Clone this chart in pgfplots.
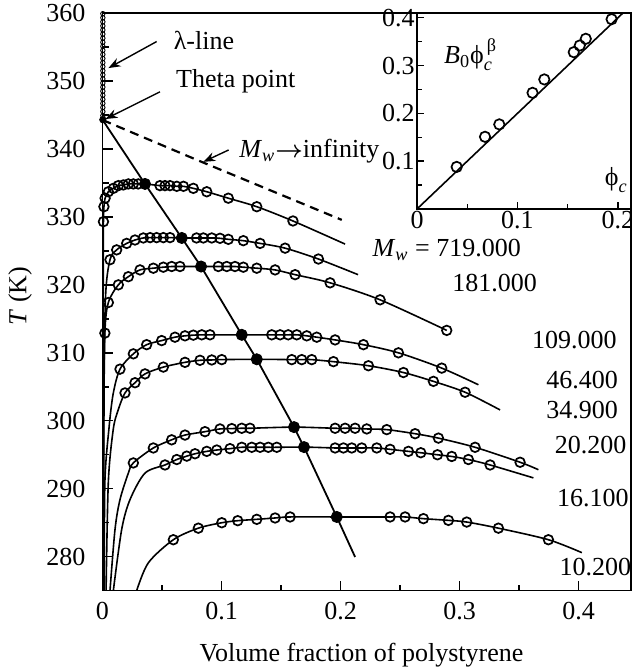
\documentclass[border=0pt]{standalone}
\usepackage{fontspec}
\setmainfont{Liberation Serif}
\usepackage{amsmath}
\usepackage{pgfplots}
\usepackage{pgfplotstable}
\pgfplotsset{compat=1.18}
\usetikzlibrary{arrows.meta}

% coexistence curves: x = volume fraction, T in K, m = 1 where a measured point (circle) sits
\pgfplotstableread{
x T m
0.0005 275 0
0.0005 300 0
0.0006 320 0
0.0008 329.3 1
0.0012 331.5 1
0.0022 332.75 1
0.0049 333.7 1
0.0091 334.2 1
0.0133 334.6 1
0.0175 334.7 1
0.0217 334.85 1
0.0259 334.85 1
0.0300 334.85 1
0.0357 334.85 0
0.0483 334.6 1
0.0525 334.6 1
0.0567 334.6 1
0.0624 334.5 1
0.0680 334.5 1
0.0763 334.2 1
0.0876 333.7 1
0.1057 332.75 1
0.1296 331.5 1
0.1600 329.4 1
0.2038 326.0 0
}\curveA
\pgfplotstableread{
x T m
0.0008 275 0
0.0009 300 0
0.0025 318 0
0.0063 323.7 1
0.0119 325.15 1
0.0203 326.1 1
0.0273 326.6 1
0.0343 326.9 1
0.0400 326.95 1
0.0455 326.95 1
0.0511 326.95 1
0.0567 326.95 1
0.0666 326.9 0
0.0790 326.9 1
0.0847 326.9 1
0.0918 326.9 1
0.0987 326.85 1
0.1057 326.7 1
0.1183 326.5 1
0.1324 326.1 1
0.1534 325.4 1
0.1814 323.8 1
0.2147 321.5 0
}\curveB
\pgfplotstableread{
x T m
0.0010 275 0
0.0012 300 0
0.0020 312.9 1
0.0049 317.4 1
0.0133 320.0 1
0.0217 321.2 1
0.0315 322.2 1
0.0427 322.45 1
0.0511 322.6 1
0.0581 322.7 1
0.0651 322.7 1
0.0828 322.7 0
0.0973 322.7 1
0.1044 322.7 1
0.1113 322.7 1
0.1183 322.6 1
0.1296 322.45 1
0.1450 322.2 1
0.1618 321.5 1
0.1912 320.3 1
0.2332 317.8 1
0.2892 313.3 1
}\curveC
\pgfplotstableread{
x T m
0.0015 275 0
0.0020 291 0
0.0055 299 0
0.0090 304 0
0.0147 307.6 1
0.0259 309.85 1
0.0371 311.2 1
0.0497 311.8 1
0.0609 312.3 1
0.0693 312.5 1
0.0763 312.6 1
0.0834 312.65 1
0.0903 312.65 1
0.1170 312.65 0
0.1422 312.65 1
0.1492 312.65 1
0.1560 312.65 1
0.1632 312.65 1
0.1716 312.5 1
0.1800 312.3 1
0.1954 311.9 1
0.2192 311.2 1
0.2486 310.0 1
0.2850 307.75 1
0.3158 305.3 0
}\curveD
\pgfplotstableread{
x T m
0.0030 275 0
0.0049 291 0
0.0090 298.7 0
0.0130 301.5 0
0.0189 304.1 1
0.0273 305.6 1
0.0357 306.9 1
0.0511 307.9 1
0.0693 308.6 1
0.0819 308.9 1
0.0918 308.95 1
0.1002 309.0 1
0.1296 309.05 0
0.1590 309.0 1
0.1674 309.0 1
0.1758 309.0 1
0.1940 308.7 1
0.2234 308.1 1
0.2528 307.1 1
0.2780 305.8 1
0.3046 304.2 1
0.3340 301.6 0
}\curveE
\pgfplotstableread{
x T m
0.0063 275 0
0.0105 284 0
0.0147 288.4 0
0.0217 292.3 0
0.0259 293.8 1
0.0427 296.0 1
0.0581 297.2 1
0.0693 297.9 1
0.0861 298.4 1
0.0987 298.8 1
0.1086 298.85 1
0.1170 298.9 1
0.1239 298.9 1
0.1609 299.07 0
0.1954 298.9 1
0.2038 298.9 1
0.2122 298.9 1
0.2220 298.8 1
0.2388 298.7 1
0.2626 298.1 1
0.2822 297.45 1
0.3130 296.1 1
0.3508 293.9 1
0.3662 292.8 0
}\curveF
\pgfplotstableread{
x T m
0.0091 275 0
0.0161 284 0
0.0231 288.4 0
0.0357 292.3 0
0.0525 293.5 1
0.0624 294.3 1
0.0708 294.8 1
0.0777 295.15 1
0.0876 295.5 1
0.0960 295.7 1
0.1071 295.9 1
0.1170 296.1 1
0.1254 296.1 1
0.1324 296.1 1
0.1393 296.1 1
0.1464 296.1 1
0.1693 296.13 0
0.1954 296.0 1
0.2024 296.0 1
0.2094 296.0 1
0.2178 296.0 1
0.2304 296.0 1
0.2416 295.8 1
0.2570 295.5 1
0.2674 295.3 1
0.2814 295.0 1
0.2934 294.75 1
0.3074 294.3 1
0.3256 293.5 1
0.3620 291.6 0
}\curveG
\pgfplotstableread{
x T m
0.0287 275 0
0.0385 279.1 0
0.0595 282.5 1
0.0805 284.2 1
0.1002 285.0 1
0.1136 285.3 1
0.1296 285.5 1
0.1450 285.7 1
0.1576 285.85 1
0.1968 285.85 0
0.2416 285.85 1
0.2542 285.85 1
0.2696 285.6 1
0.2906 285.35 1
0.3060 285.1 1
0.3326 284.2 1
0.3746 282.5 1
0.4027 280.6 0
}\curveH
% diameter through the critical points (m = 1 -> filled dot)
\pgfplotstableread{
x T m
0.0000 344.3 0
0.0357 334.85 1
0.0666 326.9 1
0.0828 322.7 1
0.1170 312.65 1
0.1296 309.05 1
0.1609 299.07 1
0.1693 296.13 1
0.1968 285.85 1
0.2122 279.96 0
}\diam
% inset: B0 phi_c^beta against phi_c
\pgfplotstableread{
x y
0.0395 0.088
0.0677 0.151
0.0819 0.177
0.1150 0.243
0.1267 0.271
0.1560 0.328
0.1620 0.342
0.1680 0.356
0.1937 0.397
}\inset

\pgfplotsset{
  cline/.style={black, line width=0.8pt, smooth, tension=0.5, no marks},
  opts/.style={black, only marks, mark=o, mark size=2.4pt, mark options={line width=0.85pt}},
  textticks/.style={
    xticklabel={\pgfmathprintnumber{\tick}},
    yticklabel={\pgfmathprintnumber{\tick}},
    /pgf/number format/assume math mode=true,
  },
}
\newcommand{\coex}[1]{%
  \addplot[cline] table[x=x, y=T] {#1};
  \addplot[opts] table[x=x, y expr={\thisrow{m}>0 ? \thisrow{T} : nan}] {#1};
}

\begin{document}
\begin{tikzpicture}[font=\fontsize{13}{15.5}\selectfont]
\begin{axis}[
    scale only axis,
    width=264.25pt, height=288.85pt,
    xmin=0, xmax=0.444, ymin=275, ymax=360,
    xtick={0,0.1,0.2,0.3,0.4},
    minor xtick={0.05,0.15,0.25,0.35},
    ytick={280,290,...,360},
    minor ytick={275,285,...,355},
    tick pos=left, tick align=inside,
    major tick length=5pt, minor tick length=3pt,
    axis line style={line width=0.7pt},
    every tick/.append style={black, line width=0.7pt},
    textticks,
    xticklabel style={yshift=-2pt},
    yticklabel style={xshift=-5pt},
    xlabel={Volume fraction of polystyrene},
    ylabel={\textit{T} (K)},
    xlabel style={at={(axis description cs:0.49,0)}, anchor=center, yshift=-32pt},
    ylabel style={at={(axis description cs:-0.156,0.51)}, anchor=center},
    clip mode=individual,
]
% lambda line and theta point
\addplot[black, only marks, mark=o, mark size=1.1pt, mark options={line width=0.45pt}] coordinates {
 (0.0003,344.9) (0.0003,345.5) (0.0003,346.1) (0.0003,346.7) (0.0003,347.3) (0.0003,347.9)
 (0.0003,348.5) (0.0003,349.1) (0.0003,349.7) (0.0003,350.3) (0.0003,350.9) (0.0003,351.5)
 (0.0003,352.1) (0.0003,352.7) (0.0003,353.3) (0.0003,353.9) (0.0003,354.5) (0.0003,355.1)
 (0.0003,355.7) (0.0003,356.3) (0.0003,356.9) (0.0003,357.5) (0.0003,358.1) (0.0003,358.7)
 (0.0003,359.3) (0.0003,359.9)};
\addplot[black, only marks, mark=*, mark size=1.6pt] coordinates {(0.0003,344.3)};

% M_w -> infinity
\addplot[black, line width=1.1pt, dash pattern=on 4.5pt off 3pt] coordinates {
 (0,344.26) (0.0777,338.5) (0.201,329.56)};

\coex{\curveA}
\coex{\curveB}
\coex{\curveC}
\coex{\curveD}
\coex{\curveE}
\coex{\curveF}
\coex{\curveG}
\coex{\curveH}

\addplot[black, line width=0.9pt, no marks] table[x=x, y=T] {\diam};
\addplot[black, only marks, mark=*, mark size=2.8pt] table[x=x, y expr={\thisrow{m}>0 ? \thisrow{T} : nan}] {\diam};

% annotations
\node[anchor=west] at (axis cs:0.054,356.0) {λ-line};
\draw[-{Stealth[length=6pt,width=4.5pt]}, line width=0.7pt] (axis cs:0.0455,355.8) -- (axis cs:0.005,351.9);
\node[anchor=west] at (axis cs:0.056,349.9) {Theta point};
\draw[-{Stealth[length=6pt,width=4.5pt]}, line width=0.7pt] (axis cs:0.0483,348.4) -- (axis cs:0.0025,344.4);
\node[anchor=west] at (axis cs:0.109,339.6) {\textit{M}\textsubscript{\textit{w}}$\boldsymbol{\rightarrow}$infinity};
\draw[-{Stealth[length=6pt,width=4.5pt]}, line width=0.7pt] (axis cs:0.106,339.85) -- (axis cs:0.0847,338.1);

\node[anchor=west] at (axis cs:0.221,325.1) {\textit{M}\textsubscript{\textit{w}} = 719.000};
\node[anchor=west] at (axis cs:0.288,320.3) {181.000};
\node[anchor=west] at (axis cs:0.355,311.9) {109.000};
\node[anchor=west] at (axis cs:0.367,306.0) {46.400};
\node[anchor=west] at (axis cs:0.367,301.6) {34.900};
\node[anchor=west] at (axis cs:0.374,296.5) {20.200};
\node[anchor=west] at (axis cs:0.376,288.7) {16.100};
\node[anchor=west] at (axis cs:0.378,278.5) {10.200};
\end{axis}

% inset
\begin{axis}[
    at={(157.25pt,190.85pt)}, anchor=south west,
    scale only axis,
    width=107pt, height=98pt,
    xmin=0, xmax=0.213, ymin=0, ymax=0.41,
    xtick={0,0.1,0.2}, minor xtick={0.05,0.15},
    ytick={0.1,0.2,0.3,0.4}, minor ytick={0.05,0.15,0.25,0.35},
    tick pos=left, tick align=inside,
    major tick length=3.5pt, minor tick length=2.5pt,
    axis line style={line width=0.7pt},
    every tick/.append style={black, line width=0.7pt},
    textticks,
    xticklabel style={inner sep=1pt},
    yticklabel style={inner sep=1pt},
    clip mode=individual,
]
\addplot[black, line width=0.8pt, no marks] coordinates {(0,0) (0.205,0.41)};
\addplot[black, only marks, mark=o, mark size=2.6pt, mark options={line width=0.85pt}] table[x=x, y=y] {\inset};
\node[anchor=west] at (axis cs:0.02,0.323) {\textit{B}\textsubscript{0}$\text{ϕ}_{\textit{c}}^{\,\text{β}}$};
\node[anchor=west] at (axis cs:0.180,0.06) {$\text{ϕ}_{\textit{c}}$};
\end{axis}

\pgfresetboundingbox
\path (-51.25pt,-40.65pt) rectangle (264.5pt,295.35pt);
\end{tikzpicture}
\end{document}
